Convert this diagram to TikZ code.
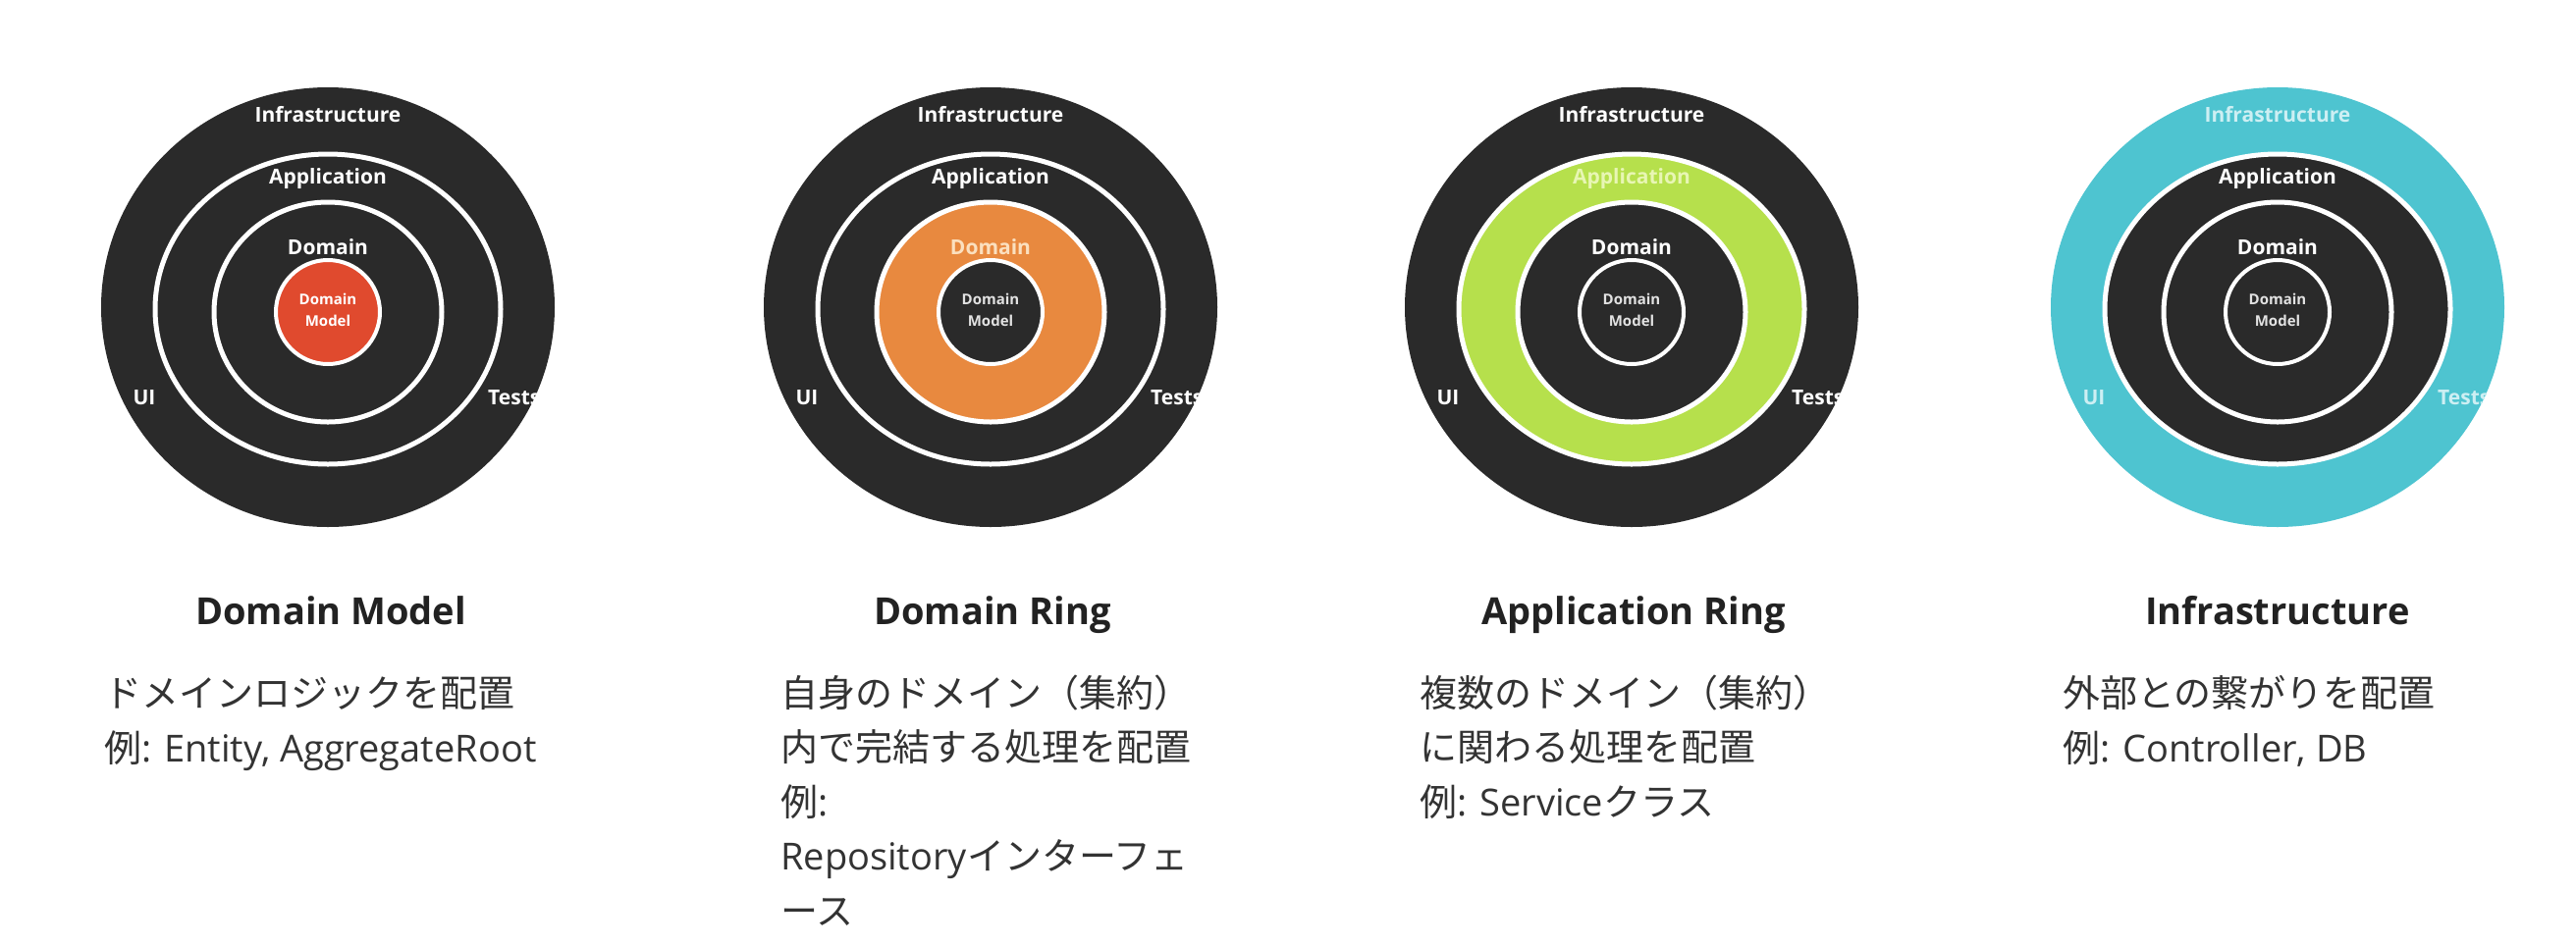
\documentclass[tikz,border=0pt]{standalone}
\usepackage{fontspec}
\setmainfont{Open Sans}
\newfontfamily\jpfont{Noto Sans CJK JP}
\newcommand{\jp}[1]{{\jpfont #1}}
\definecolor{ringdark}{HTML}{2A2A2A}
\definecolor{dmred}{HTML}{E04A2E}
\definecolor{domorange}{HTML}{E8893F}
\definecolor{applime}{HTML}{B6E04C}
\definecolor{infracyan}{HTML}{4EC4D0}
\definecolor{paleorange}{HTML}{FBE0BF}
\definecolor{palelime}{HTML}{E8F6B4}
\definecolor{palecyan}{HTML}{CDEFF3}
\definecolor{dmgray}{HTML}{E2E2E2}
\definecolor{headcol}{HTML}{222222}
\definecolor{bodycol}{HTML}{333333}
\tikzset{
  ringlabel/.style={font=\bfseries\fontsize{21}{24}\selectfont, inner sep=0pt},
  dmlabel/.style={font=\bfseries\fontsize{15}{22}\selectfont, inner sep=0pt, align=center},
  headtext/.style={font=\bfseries\fontsize{38}{46}\selectfont, text=headcol, anchor=base, inner sep=0pt},
  bodytext/.style={font=\fontsize{38}{55}\selectfont, text=bodycol, anchor=base west, inner sep=0pt},
  ringline/.style={draw=white, line width=5pt},
}
\begin{document}
\begin{tikzpicture}[x=1pt,y=-1pt]
\useasboundingbox (0,0) rectangle (2624,962);
\fill[white] (0,0) rectangle (2624,962);
\foreach \i/\cx/\fillO/\fillA/\fillD/\fillM/\txtO/\txtA/\txtD/\txtM in {
  1/334/ringdark/ringdark/ringdark/dmred/white/white/white/white,
  2/1009/ringdark/ringdark/domorange/ringdark/white/white/paleorange/dmgray,
  3/1662/ringdark/applime/ringdark/ringdark/white/palelime/white/dmgray,
  4/2320/infracyan/ringdark/ringdark/ringdark/palecyan/white/white/dmgray}{
  \coordinate (c\i) at (\cx,314);
  \fill[\fillO] (\cx,313) ellipse [x radius=231pt, y radius=224pt];
  \filldraw[fill=\fillA, ringline] (\cx,315) ellipse [x radius=176pt, y radius=158pt];
  \filldraw[fill=\fillD, ringline] (\cx,318) ellipse [x radius=116pt, y radius=112pt];
  \filldraw[fill=\fillM, ringline, line width=4pt] (\cx,318) circle [radius=53pt];
  \node[ringlabel, text=\txtO] (infra\i) at (\cx,117) {Infrastructure};
  \node[ringlabel, text=\txtA] (app\i) at (\cx,182) {Application};
  \node[ringlabel, text=\txtD] (dom\i) at (\cx,252) {Domain};
  \node[dmlabel, text=\txtM] (dm\i) at (\cx,316) {Domain\\Model};
  \node[ringlabel, text=\txtO] (ui\i) at (\cx-187,405) {UI};
  \begin{scope}
    \clip (\cx,313) ellipse [x radius=231pt, y radius=224pt];
    \node[ringlabel, text=\txtO, anchor=west] (tests\i) at (\cx+163,405) {Tests};
  \end{scope}
}
% headings
\node[headtext] (h1) at (337,636) {Domain Model};
\node[headtext] (h2) at (1011,636) {Domain Ring};
\node[headtext] (h3) at (1664,636) {Application Ring};
\node[headtext] (h4) at (2320,636) {Infrastructure};
% column 1
\node[bodytext] (t1a) at (106,720) {\jp{ドメインロジックを配置}};
\node[bodytext] (t1b) at (106,776) {\jp{例}: Entity, AggregateRoot};
% column 2
\node[bodytext] (t2a) at (795,720) {\jp{自身のドメイン（集約）}};
\node[bodytext] (t2b) at (795,775.5) {\jp{内で完結する処理を配置}};
\node[bodytext] (t2c) at (795,831) {\jp{例}:};
\node[bodytext] (t2d) at (795,886.5) {Repository\jp{インターフェ}};
\node[bodytext] (t2e) at (795,942) {\jp{ース}};
% column 3
\node[bodytext] (t3a) at (1446,720) {\jp{複数のドメイン（集約）}};
\node[bodytext] (t3b) at (1446,775.5) {\jp{に関わる処理を配置}};
\node[bodytext] (t3c) at (1446,831) {\jp{例}: Service\jp{クラス}};
% column 4
\node[bodytext] (t4a) at (2101,720) {\jp{外部との繋がりを配置}};
\node[bodytext] (t4b) at (2101,776) {\jp{例}: Controller, DB};
\end{tikzpicture}
\end{document}
